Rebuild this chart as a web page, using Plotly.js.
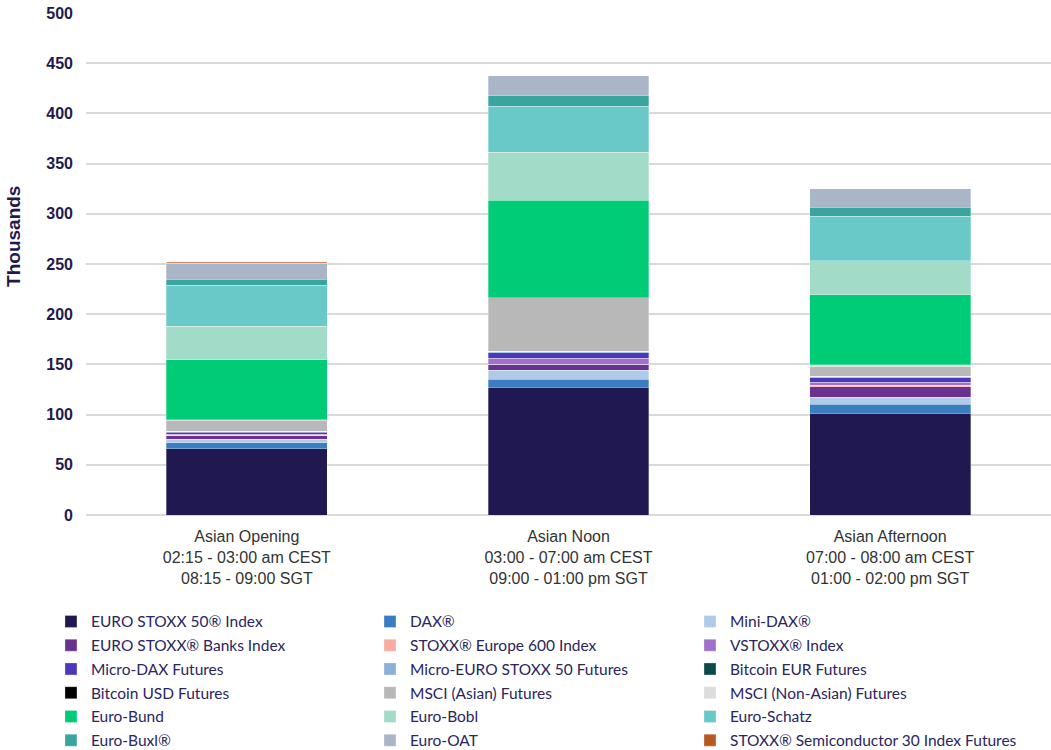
<!DOCTYPE html>
<html>
<head>
<meta charset="utf-8">
<script src="https://cdn.plot.ly/plotly-3.0.1.min.js"></script>
<style>html,body{margin:0;padding:0;background:#fff;}#chart{width:1051px;height:750px;}</style>
</head>
<body>
<div id="chart"></div>
<script>
var categories = [
  "Asian Opening<br>02:15 - 03:00 am CEST<br>08:15 - 09:00 SGT",
  "Asian Noon<br>03:00 - 07:00 am CEST<br>09:00 - 01:00 pm SGT",
  "Asian Afternoon<br>07:00 - 08:00 am CEST<br>01:00 - 02:00 pm SGT"
];
var seriesNames = [
  "EURO STOXX 50® Index", "DAX®", "Mini-DAX®",
  "EURO STOXX® Banks Index", "STOXX® Europe 600 Index", "VSTOXX® Index",
  "Micro-DAX Futures", "Micro-EURO STOXX 50 Futures", "Bitcoin EUR Futures",
  "Bitcoin USD Futures", "MSCI (Asian) Futures", "MSCI (Non-Asian) Futures",
  "Euro-Bund", "Euro-Bobl", "Euro-Schatz",
  "Euro-Buxl®", "Euro-OAT", "STOXX® Semiconductor 30 Index Futures"
];
var eurostoxx50 = [66, 127, 101.5];
var dax = [6, 8, 9];
var miniDax = [3.7, 9, 7];
var banks = [3, 6, 10];
var stoxx600 = [0.5, 0.3, 1.7];
var vstoxx = [1.3, 6, 3];
var microDax = [2, 5.3, 4.3];
var microEsx50 = [1, 1.7, 1.7];
var bitcoinEur = [0, 0, 0];
var bitcoinUsd = [0, 0, 0];
var msciAsian = [11, 53, 9.4];
var msciNonAsian = [0.3, 0.3, 2];
var euroBund = [60, 97, 69.6];
var euroBobl = [33, 47.5, 34];
var euroSchatz = [41, 46, 44.5];
var euroBuxl = [6, 10.5, 8.7];
var euroOat = [16, 20, 18.6];
var semiconductor = [1, 0, 0];
var yTitle = "Thousands";

var seriesValues = [eurostoxx50, dax, miniDax, banks, stoxx600, vstoxx, microDax, microEsx50,
  bitcoinEur, bitcoinUsd, msciAsian, msciNonAsian, euroBund, euroBobl, euroSchatz, euroBuxl, euroOat, semiconductor];
var colors = ["#201851", "#3A7DC0", "#AFCBE8", "#6A3190", "#F8ABA0", "#A070CA", "#4B38BA", "#8AB0DC",
  "#0B4A4A", "#000000", "#B8B8B8", "#DCDCDC", "#00CC78", "#A2DCC8", "#68C9C8", "#3AA59E", "#AAB5C8", "#B65A20"];
var legendIds = ["legend", "legend2", "legend3"];

var traces = seriesNames.map(function (n, i) {
  return {
    type: "bar",
    name: n,
    x: categories,
    y: seriesValues[i],
    legend: legendIds[i % 3],
    legendgroup: "g" + i,
    marker: { color: colors[i], line: { color: "rgba(255,255,255,0.6)", width: 0.5 } },
    hoverinfo: "name+y"
  };
});

function legendAt(xp) {
  return {
    orientation: "v",
    x: xp,
    xanchor: "left",
    y: -0.179,
    yanchor: "top",
    traceorder: "grouped",
    tracegroupgap: 0.6,
    font: { family: "Lato, Noto Sans, sans-serif", size: 15.5, color: "#2A2560" },
    itemwidth: 30,
    bgcolor: "rgba(0,0,0,0)"
  };
}

var layout = {
  width: 1051,
  height: 750,
  barmode: "stack",
  bargap: 0.5,
  margin: { l: 86, r: 0, t: 13, b: 235, pad: 0, autoexpand: false },
  paper_bgcolor: "#fff",
  plot_bgcolor: "#fff",
  font: { family: "Liberation Sans, Arial, sans-serif", color: "#333" },
  xaxis: {
    type: "category",
    tickfont: { size: 16, color: "#333", family: "Liberation Sans, Arial, sans-serif" },
    showgrid: false,
    zeroline: false,
    showline: false,
    ticks: "",
    ticklabelstandoff: 10
  },
  yaxis: {
    range: [0, 500],
    dtick: 50,
    tick0: 0,
    showgrid: true,
    gridcolor: "#D9D9D9",
    gridwidth: 2,
    zeroline: true,
    zerolinecolor: "#D9D9D9",
    zerolinewidth: 2,
    showline: false,
    ticks: "",
    ticklabelstandoff: 12,
    tickfont: { size: 16, color: "#1F1A4E", family: "Liberation Sans, Arial, sans-serif", weight: "bold" }
  },
  annotations: [{
    text: "<b>" + yTitle + "</b>",
    xref: "paper", yref: "paper",
    x: -0.0746, y: 0.554,
    xanchor: "center", yanchor: "middle",
    textangle: -90,
    showarrow: false,
    font: { size: 19, color: "#1F1A4E", family: "Liberation Sans, Arial, sans-serif" }
  }],
  showlegend: true,
  legend: legendAt(-0.0363),
  legend2: legendAt(0.2943),
  legend3: legendAt(0.6259)
};

Plotly.newPlot("chart", traces, layout, { displayModeBar: false, staticPlot: true });
</script>
</body>
</html>
